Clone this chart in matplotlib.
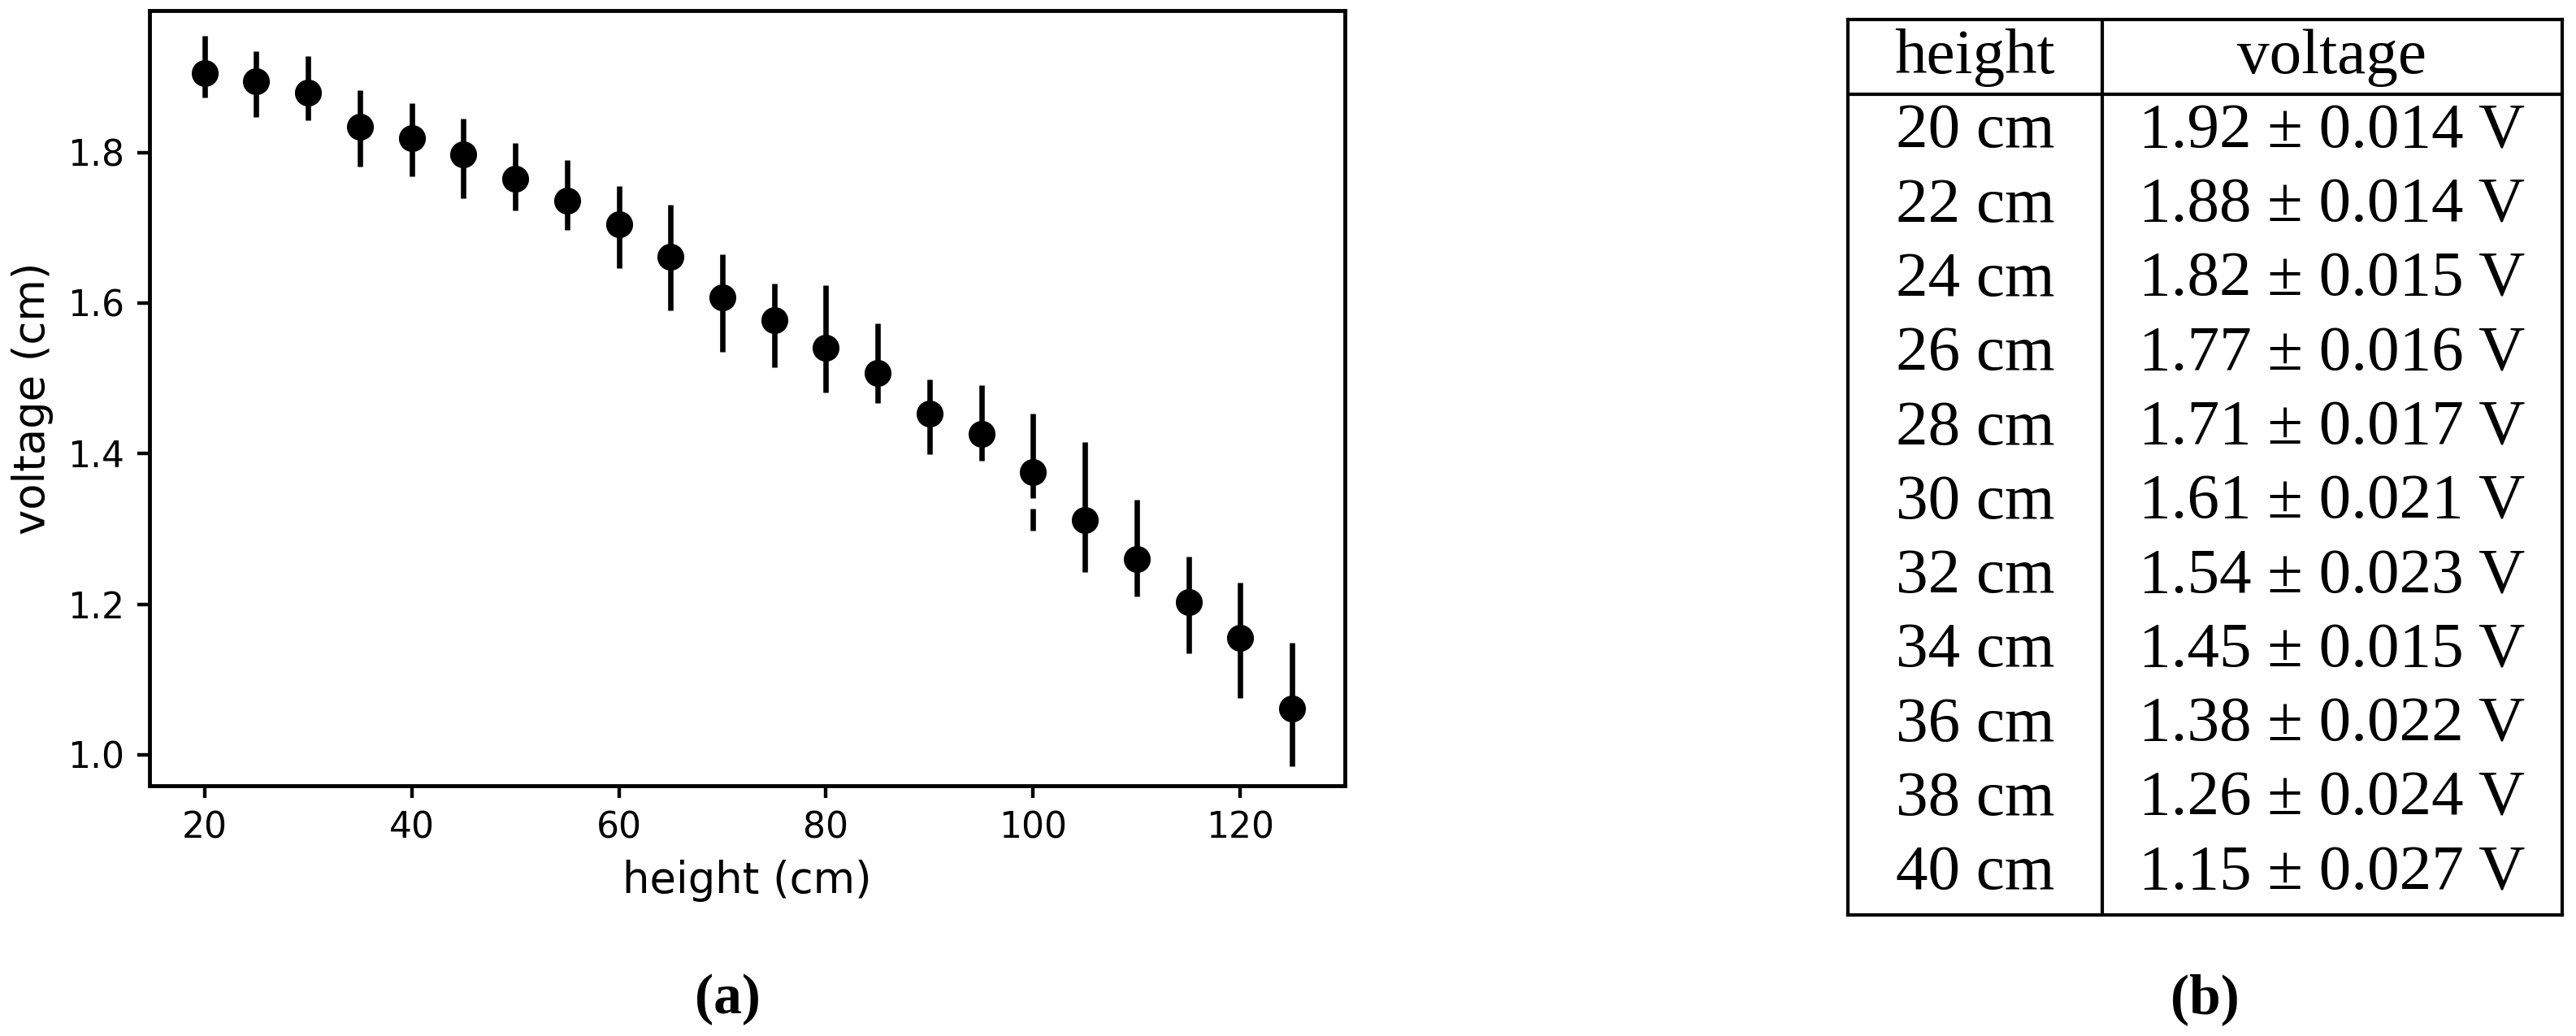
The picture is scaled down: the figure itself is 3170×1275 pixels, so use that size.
import numpy as np
import matplotlib
matplotlib.use("Agg")
import matplotlib.pyplot as plt

# measured points (left panel)
heights = [20, 25, 30, 35, 40, 45, 50, 55, 60, 65, 70,
           75, 80, 85, 90, 95, 100, 105, 110, 115, 120, 125]
voltage = [1.905, 1.894, 1.879, 1.834, 1.819, 1.797, 1.765, 1.736, 1.705, 1.661, 1.608,
           1.577, 1.541, 1.507, 1.453, 1.426, 1.376, 1.312, 1.260, 1.203, 1.155, 1.062]
v_top = [1.955, 1.935, 1.928, 1.883, 1.865, 1.845, 1.812, 1.790, 1.755, 1.730, 1.665,
         1.626, 1.624, 1.573, 1.498, 1.491, 1.453, 1.415, 1.339, 1.263, 1.229, 1.149]
v_bot = [1.873, 1.847, 1.843, 1.781, 1.768, 1.739, 1.723, 1.697, 1.646, 1.590, 1.535,
         1.515, 1.481, 1.467, 1.399, 1.391, 1.341, 1.243, 1.210, 1.135, 1.075, 0.985]
# detached piece of the error bar under the 100 cm point
dash_x = [100]
dash_lo = [1.298]
dash_hi = [1.327]

# table (right panel)
tab_height = [20, 22, 24, 26, 28, 30, 32, 34, 36, 38, 40]
tab_volt = [1.92, 1.88, 1.82, 1.77, 1.71, 1.61, 1.54, 1.45, 1.38, 1.26, 1.15]
tab_err = [0.014, 0.014, 0.015, 0.016, 0.017, 0.021, 0.023, 0.015, 0.022, 0.024, 0.027]

S = 3.17  # everything is a default matplotlib figure blown up

fig = plt.figure(figsize=(31.7, 12.75), dpi=100)

ax = fig.add_axes([0.05804, 0.2416, 0.4641, 0.7479])
v = np.array(voltage)
yerr = [v - np.array(v_bot), np.array(v_top) - v]
ax.errorbar(heights, voltage, yerr=yerr, fmt='o', color='black',
            markersize=7.2*S, elinewidth=1.5*S, capsize=0)
ax.vlines(dash_x, dash_lo, dash_hi, color='black', linewidth=1.5*S)
ax.set_xlim(14.7, 130.1)
ax.set_ylim(0.959, 1.988)
ax.set_xticks([20, 40, 60, 80, 100, 120])
ax.set_yticks([1.0, 1.2, 1.4, 1.6, 1.8])
ax.set_xlabel('height (cm)', fontsize=12*S, labelpad=4*S)
ax.set_ylabel('voltage (cm)', fontsize=12*S, labelpad=4*S)
ax.tick_params(labelsize=10*S, length=3.5*S, width=1.0*S, pad=3.5*S)
for sp in ax.spines.values():
    sp.set_linewidth(1.1*S)

# table drawn on its own axes
tx = fig.add_axes([2274/3170, 1 - 1126/1275, (3153-2274)/3170, (1126-24)/1275])
nrows = len(tab_height) + 1
tx.set_xlim(0, 1)
tx.set_ylim(nrows, 0)
tx.set_xticks([])
tx.set_yticks([])
for sp in tx.spines.values():
    sp.set_linewidth(3.0)
col_div = 0.356
tx.axvline(col_div, color='black', linewidth=3.0)
tx.axhline(1, color='black', linewidth=3.0)

serif = ['Liberation Serif', 'DejaVu Serif']
fs = 57
c1 = col_div / 2
c2 = (col_div + 1) / 2
off = 0.72
tx.text(c1, off, 'height', ha='center', va='baseline', fontsize=fs, family=serif)
tx.text(c2, off, 'voltage', ha='center', va='baseline', fontsize=fs, family=serif)
for i, (h, vv, e) in enumerate(zip(tab_height, tab_volt, tab_err)):
    y = i + 1 + off - 0.006*(i + 1)
    tx.text(c1, y, f'{h} cm', ha='center', va='baseline', fontsize=fs, family=serif)
    tx.text(c2, y, f'{vv:.2f} \u00b1 {e:.3f} V', ha='center', va='baseline',
            fontsize=fs, family=serif)

fig.text(895/3170, 1 - 1247/1275, '(a)', ha='center', va='baseline',
         fontsize=50, fontweight='bold', family=serif)
fig.text(2713/3170, 1 - 1247/1275, '(b)', ha='center', va='baseline',
         fontsize=50, fontweight='bold', family=serif)

fig.savefig('out.png', dpi=100)
